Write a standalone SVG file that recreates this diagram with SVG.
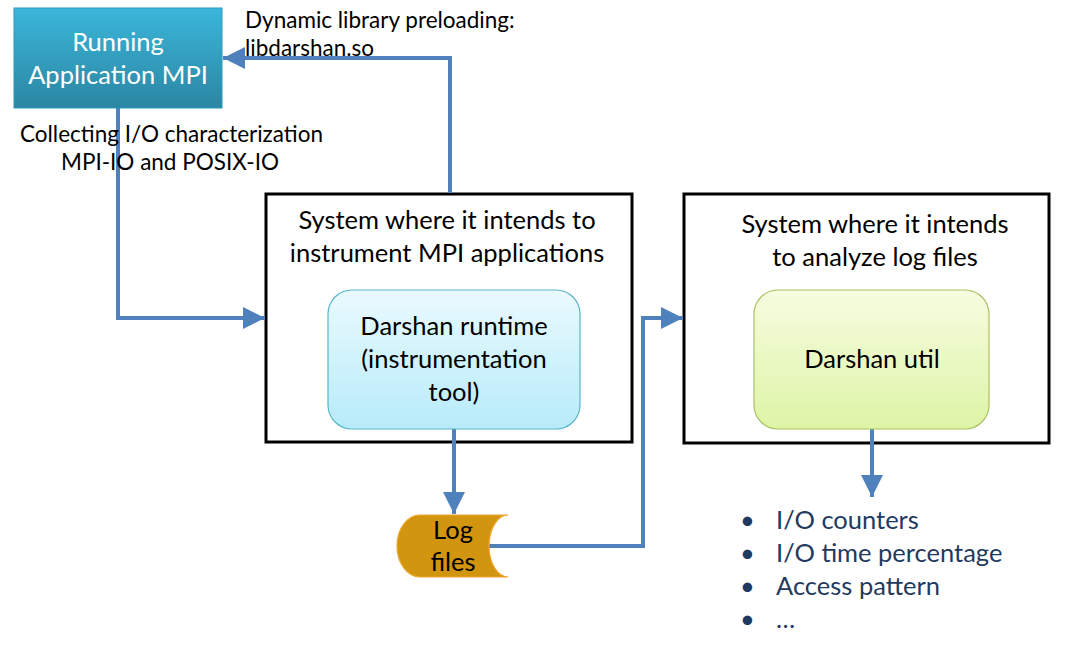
<svg xmlns="http://www.w3.org/2000/svg" width="1090" height="649" viewBox="0 0 1090 649">
<style>
text{font-family:Lato,"Liberation Sans",sans-serif;}
.t{font-size:25.5px;fill:#000;text-anchor:middle;}
.lbl{font-size:22.5px;fill:#000;}
.w{font-size:25.5px;fill:#fff;text-anchor:middle;}
.b{font-size:25.5px;fill:#1f3a60;}
.sys{fill:#fff;stroke:#000;stroke-width:3;}
.conn{fill:none;stroke:#4f81bd;stroke-width:4;stroke-linejoin:miter;}
</style>
<defs>
<linearGradient id="gApp" x1="0" y1="0" x2="0" y2="1">
<stop offset="0" stop-color="#3bb6da"/>
<stop offset="1" stop-color="#2b86a2"/>
</linearGradient>
<linearGradient id="gRun" x1="0" y1="0" x2="0" y2="1">
<stop offset="0" stop-color="#eafafe"/>
<stop offset="1" stop-color="#b7ebfa"/>
</linearGradient>
<linearGradient id="gUtil" x1="0" y1="0" x2="0" y2="1">
<stop offset="0" stop-color="#f6fce0"/>
<stop offset="1" stop-color="#def4a6"/>
</linearGradient>
<marker id="ah" viewBox="0 0 10 10" refX="10" refY="5" markerWidth="5.5" markerHeight="6" markerUnits="strokeWidth" orient="auto">
<path d="M0,0 L10,5 L0,10 Z" fill="#4f81bd"/>
</marker>
</defs>
<rect width="1090" height="649" fill="#fff"/>

<g id="sys1">
<rect class="sys" x="266" y="194" width="366" height="248"/>
<text class="t" x="447" y="229">System where it intends to</text>
<text class="t" x="447" y="262">instrument MPI applications</text>
</g>
<g id="sys2">
<rect class="sys" x="684" y="194" width="365" height="249"/>
<text class="t" x="875" y="233">System where it intends</text>
<text class="t" x="875" y="266">to analyze log files</text>
</g>

<g id="connectors">
<path class="conn" d="M450,193 L450,58 L223,58" marker-end="url(#ah)"/>
<path class="conn" d="M118,108 L118,318 L265,318" marker-end="url(#ah)"/>
<path class="conn" d="M454,428 L454,514" marker-end="url(#ah)"/>
<path class="conn" d="M489,546 L643,546 L643,318 L683,318" marker-end="url(#ah)"/>
<path class="conn" d="M872,428 L872,497" marker-end="url(#ah)"/>
</g>

<g id="app">
<rect x="14" y="8" width="208" height="100" fill="url(#gApp)" stroke="#2a9ac0" stroke-width="1"/>
<text class="w" x="118" y="51">Running</text>
<text class="w" x="118" y="84">Application MPI</text>
</g>

<g id="runtime">
<rect x="328" y="290" width="252" height="139" rx="24" fill="url(#gRun)" stroke="#5bb5cb" stroke-width="1.2"/>
<text class="t" x="454" y="335">Darshan runtime</text>
<text class="t" x="454" y="368">(instrumentation</text>
<text class="t" x="454" y="401">tool)</text>
</g>

<g id="util">
<rect x="754" y="290" width="235" height="139" rx="24" fill="url(#gUtil)" stroke="#a9c262" stroke-width="1.2"/>
<text class="t" x="872" y="368">Darshan util</text>
</g>

<g id="logfiles">
<path d="M420,515 L508,515 A19,31 0 0 0 508,577 L420,577 A23,31 0 0 1 420,515 Z" fill="#d19510" stroke="#eea52a" stroke-width="1.2"/>
<text class="t" x="453" y="539">Log</text>
<text class="t" x="453" y="571">files</text>
</g>

<g id="labels">
<text class="lbl" x="245" y="28">Dynamic library preloading:</text>
<text class="lbl" x="245" y="56">libdarshan.so</text>
<text class="lbl" x="20" y="142">Collecting I/O characterization</text>
<text class="lbl" x="170" y="170" text-anchor="middle">MPI-IO and POSIX-IO</text>
</g>

<g id="bullets">
<text class="b" x="740" y="529">•</text><text class="b" x="776" y="529">I/O counters</text>
<text class="b" x="740" y="562">•</text><text class="b" x="776" y="562">I/O time percentage</text>
<text class="b" x="740" y="595">•</text><text class="b" x="776" y="595">Access pattern</text>
<text class="b" x="740" y="628">•</text><text class="b" x="776" y="628">…</text>
</g>
</svg>
